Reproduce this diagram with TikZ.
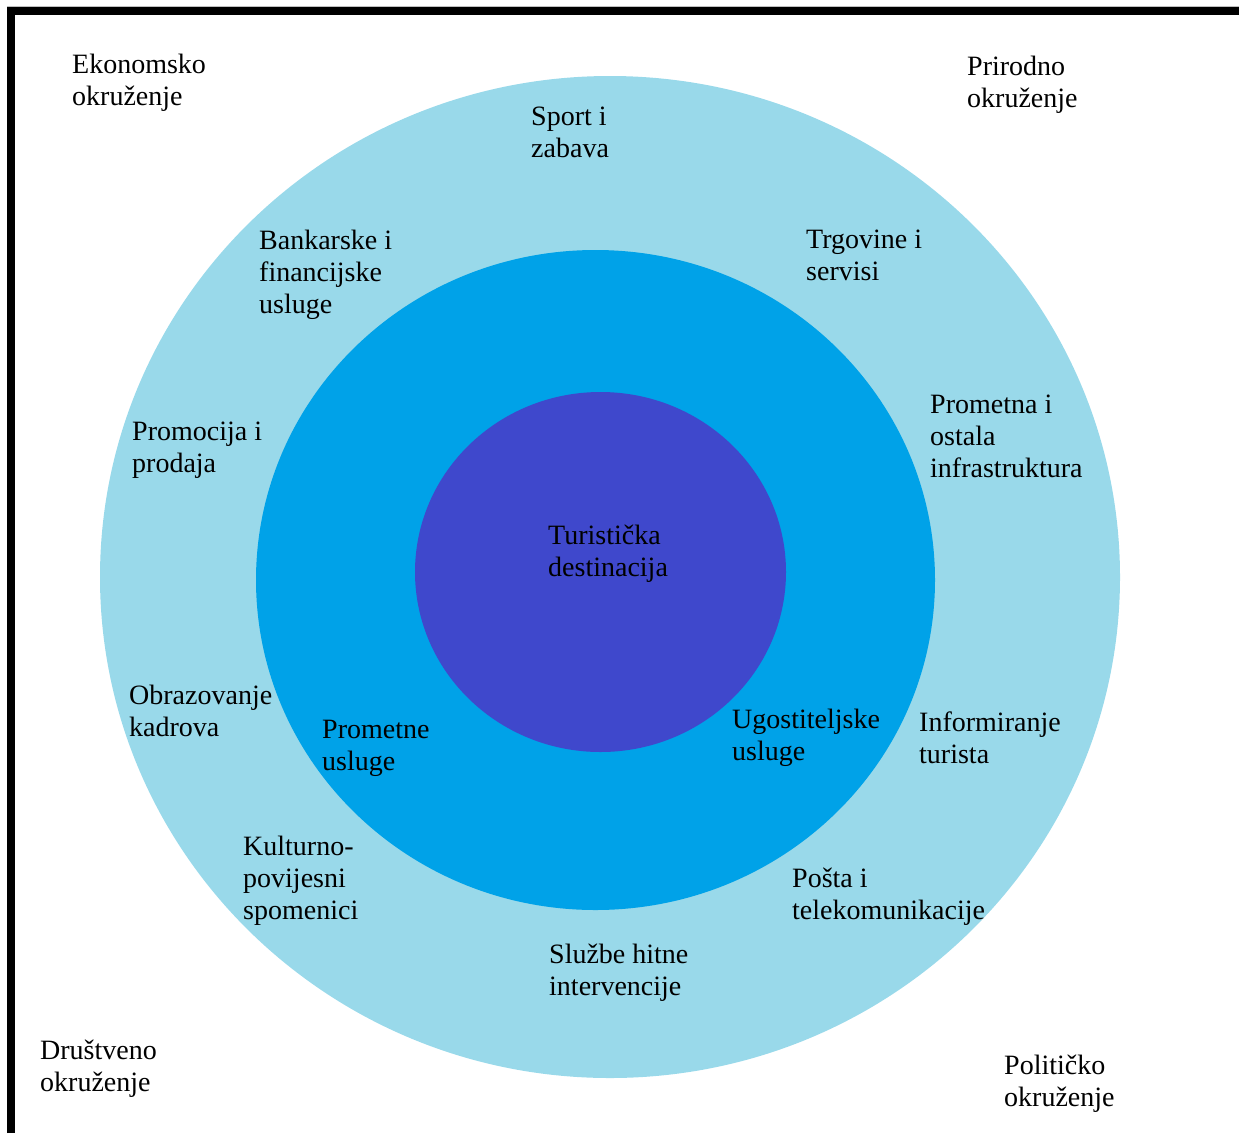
\documentclass[tikz,border=0pt]{standalone}
\usepackage{fontspec}
\setmainfont{Liberation Serif}
\definecolor{okolina}{HTML}{99D9EA}
\definecolor{usluge}{HTML}{00A2E8}
\definecolor{jezgra}{HTML}{3F48CC}
\begin{document}
\begin{tikzpicture}[x=1pt, y=-1pt,
    oznaka/.style={anchor=north west, align=left, inner sep=0pt, font=\fontsize{28}{32}\selectfont}]
    \useasboundingbox (0,0) rectangle (1239,1133);
    \draw[gray!50, line width=1pt] (7,6) -- (1239,6) ;
    \draw[line width=8pt] (11,1133) -- (11,11) -- (1239,11) ;
    \fill[okolina] (610,577) ellipse [x radius=510pt, y radius=501pt] ;
    \fill[usluge] (595.5,580) ellipse [x radius=339.5pt, y radius=330pt] ;
    \fill[jezgra] (600.5,572) ellipse [x radius=185.5pt, y radius=180pt] ;
    \node[oznaka] (ekonomsko) at (72,54) {Ekonomsko\\okruženje} ;
    \node[oznaka] (prirodno) at (967,56) {Prirodno\\okruženje} ;
    \node[oznaka] (sport) at (531,107) {Sport i\\zabava} ;
    \node[oznaka] (bankarske) at (259,230) {Bankarske i\\financijske\\usluge} ;
    \node[oznaka] (trgovine) at (806,230) {Trgovine i\\servisi} ;
    \node[oznaka] (promocija) at (132,422) {Promocija i\\prodaja} ;
    \node[oznaka] (infrastruktura) at (930,395) {Prometna i\\ostala\\infrastruktura} ;
    \node[oznaka] (destinacija) at (548,525) {Turistička\\destinacija} ;
    \node[oznaka] (obrazovanje) at (129,685) {Obrazovanje\\kadrova} ;
    \node[oznaka] (prometne) at (322,720) {Prometne\\usluge} ;
    \node[oznaka] (ugostiteljske) at (732,709) {Ugostiteljske\\usluge} ;
    \node[oznaka] (informiranje) at (919,712) {Informiranje\\turista} ;
    \node[oznaka] (kulturno) at (243,836) {Kulturno-\\povijesni\\spomenici} ;
    \node[oznaka] (posta) at (792,868) {Pošta i\\telekomunikacije} ;
    \node[oznaka] (sluzbe) at (549,944) {Službe hitne\\intervencije} ;
    \node[oznaka] (drustveno) at (40,1040) {Društveno\\okruženje} ;
    \node[oznaka] (politicko) at (1004,1055) {Političko\\okruženje} ;
\end{tikzpicture}
\end{document}
